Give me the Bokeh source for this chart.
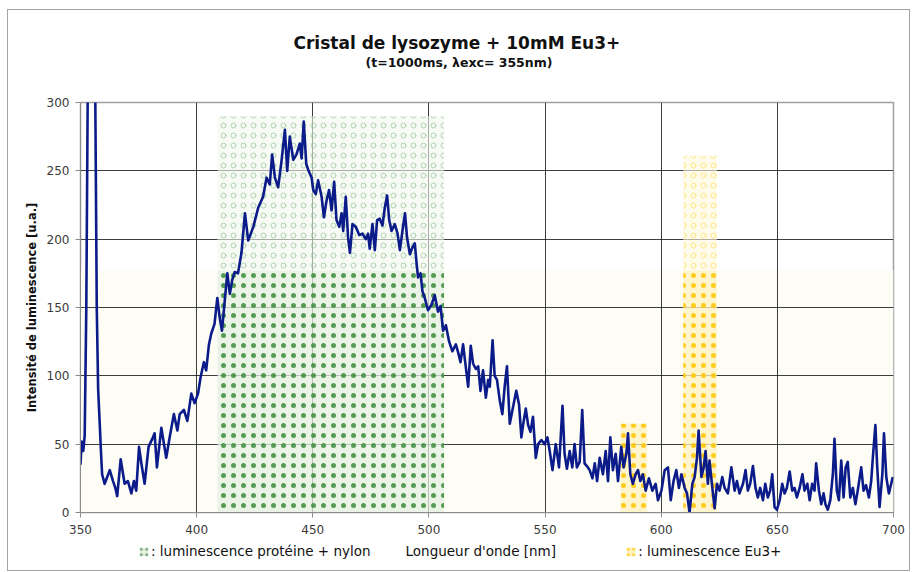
from bokeh.plotting import figure
from bokeh.layouts import column
from bokeh.models import (Range1d, FixedTicker, Legend, LegendItem, Title,
                          BoxAnnotation, ColumnDataSource)
from bokeh.embed import file_html
from bokeh.resources import INLINE

# ---------------- data ----------------
wavelength = [
    350.0, 350.5, 351.2, 351.8, 352.5, 353.2, 354.0, 355.5, 356.3, 357.0,
    357.6, 358.2, 358.8, 359.3, 360.4, 361.5, 362.6, 364.0, 365.0, 365.8,
    367.3, 369.0, 370.4, 371.9, 373.0, 374.0, 375.2, 376.2, 377.6, 379.3,
    381.2, 381.9, 382.9, 384.8, 386.9, 388.4, 390.2, 391.7, 392.7, 394.5,
    396.0, 397.7, 399.1, 400.6, 401.7, 403.1, 404.1, 405.3, 406.3, 407.7,
    408.9, 409.9, 410.9, 412.0, 413.2, 414.3, 415.3, 416.4, 417.8, 419.3,
    420.8, 422.2, 424.4, 426.5, 428.6, 430.1, 431.5, 432.5, 433.7, 435.1,
    436.6, 438.0, 439.0, 440.1, 441.6, 443.0, 444.4, 445.2, 446.1, 447.2,
    448.2, 449.5, 450.2, 451.3, 452.3, 453.8, 454.8, 455.9, 457.0, 458.1,
    459.2, 460.2, 461.4, 462.4, 463.1, 464.2, 465.2, 466.0, 467.1, 468.5,
    470.0, 471.4, 472.8, 473.8, 474.5, 475.7, 476.7, 477.7, 478.8, 480.0,
    481.0, 482.0, 482.9, 483.9, 485.3, 486.5, 487.5, 488.6, 489.7, 490.6,
    491.8, 492.9, 493.9, 494.6, 495.3, 496.4, 497.2, 498.2, 499.6, 501.1,
    502.5, 503.9, 505.0, 506.1, 507.3, 508.7, 510.1, 511.6, 512.6, 513.6,
    514.7, 515.9, 516.9, 518.0, 519.0, 520.2, 521.2, 522.2, 523.3, 524.5,
    525.5, 526.2, 527.4, 528.3, 529.3, 530.5, 531.6, 532.6, 533.6, 534.8,
    536.2, 537.6, 538.8, 539.8, 540.8, 541.7, 542.7, 543.7, 544.8, 546.0,
    547.0, 548.4, 549.8, 551.0, 552.0, 553.2, 554.6, 556.0, 557.5, 558.4,
    559.4, 560.6, 561.7, 562.7, 563.7, 564.9, 566.0, 567.0, 568.0, 569.2,
    570.4, 571.4, 572.4, 573.5, 574.9, 576.1, 577.1, 578.1, 579.2, 580.4,
    581.4, 582.8, 583.8, 585.0, 585.7, 586.7, 587.8, 589.0, 590.0, 591.0,
    592.1, 593.3, 594.7, 596.2, 597.6, 598.6, 600.1, 601.5, 602.9, 604.1,
    605.3, 606.5, 607.6, 608.7, 610.1, 611.1, 612.2, 613.4, 614.4, 615.4,
    616.1, 617.3, 618.3, 619.1, 620.1, 620.8, 622.0, 623.0, 624.0, 625.1,
    626.3, 627.3, 628.7, 630.2, 631.6, 632.6, 633.7, 635.2, 636.3, 637.3,
    638.3, 639.5, 640.6, 641.6, 642.6, 643.8, 644.8, 645.9, 646.9, 647.8,
    648.8, 649.8, 651.0, 652.1, 653.1, 654.1, 655.3, 656.4, 657.4, 658.4,
    659.6, 660.8, 661.7, 662.9, 663.9, 665.0, 666.0, 666.7, 667.9, 668.9,
    669.9, 670.7, 671.7, 672.8, 673.9, 674.6, 675.6, 676.5, 677.5, 678.5,
    679.4, 680.3, 681.4, 682.5, 683.6, 684.6, 686.1, 687.1, 688.2, 689.4,
    690.4, 691.1, 692.2, 693.0, 694.0, 695.2, 695.9, 696.9, 698.0, 699.0,
    699.7,
]
intensity = [
    35, 52, 45, 56, 150, 330, 380, 380, 320, 150,
    90, 68, 45, 28, 21, 26, 31, 23, 18, 12,
    39, 21, 23, 14, 23, 16, 48, 36, 21, 48,
    55, 58, 33, 62, 40, 55, 72, 60, 72, 75,
    67, 87, 80, 87, 99, 110, 104, 123, 131, 138,
    157, 143, 133, 153, 175, 160, 170, 176, 175, 190,
    219, 199, 209, 223, 231, 245, 240, 262, 245, 238,
    258, 280, 250, 275, 258, 262, 270, 259, 286, 255,
    250, 245, 236, 233, 243, 231, 216, 228, 236, 221,
    242, 214, 209, 219, 206, 231, 201, 190, 211, 209,
    203, 204, 200, 204, 193, 211, 192, 214, 215, 210,
    223, 232, 214, 206, 211, 204, 192, 206, 219, 201,
    189, 194, 197, 184, 172, 175, 162, 157, 148, 152,
    159, 147, 151, 133, 137, 125, 118, 123, 117, 110,
    123, 106, 92, 122, 109, 105, 107, 89, 104, 84,
    97, 92, 126, 100, 97, 82, 72, 92, 107, 65,
    77, 89, 79, 55, 67, 76, 64, 59, 70, 40,
    50, 53, 50, 55, 45, 31, 50, 33, 78, 43,
    32, 45, 33, 50, 33, 37, 75, 36, 34, 31,
    25, 36, 23, 40, 28, 45, 23, 55, 31, 43,
    23, 48, 33, 43, 58, 28, 21, 28, 31, 23,
    28, 16, 25, 16, 21, 9, 16, 31, 33, 9,
    23, 31, 18, 28, 18, 14, 0, 21, 26, 40,
    60, 26, 33, 45, 21, 38, 18, 3, 21, 16,
    26, 18, 14, 33, 16, 23, 14, 21, 31, 16,
    21, 34, 18, 11, 18, 9, 21, 11, 16, 28,
    4, 2, 9, 21, 14, 18, 30, 16, 18, 11,
    18, 28, 16, 21, 9, 21, 16, 36, 16, 6,
    14, 6, 2, 9, 28, 54, 16, 9, 38, 11,
    33, 37, 11, 18, 6, 16, 33, 16, 20, 11,
    23, 40, 64, 33, 4, 28, 58, 26, 14, 21,
    26,
]

# highlighted emission bands (nm) and their heights
band_labels = [": luminescence protéine + nylon", ": luminescence Eu3+"]
band_left = [409.0, 582.5, 609.5]
band_right = [506.5, 594.0, 624.0]
band_top = [290, 65, 261]

x_ticks = [350, 400, 450, 500, 550, 600, 650, 700]
y_ticks = [0, 50, 100, 150, 200, 250, 300]

title_text = "Cristal de lysozyme + 10mM Eu3+"
subtitle_text = "(t=1000ms, \u03bbexc= 355nm)"
x_label = "Longueur d'onde [nm]"
y_label = "Intensité de luminescence [u.a.]"

# ---------------- styling constants ----------------
DENSE_TOP = 177      # the lower part of the chart is printed darker
FONT = "DejaVu Sans"
GREEN = dict(fill="#e4efe0", hatch="#3a8c3a", fill_up="#f1f6ef", hatch_up="#86bd86")
YELLOW = dict(fill="#fff1bd", hatch="#ffc400", fill_up="#fff8dc", hatch_up="#ffd84a")
NBSP = "\u00a0"
W = 901

p = figure(width=W, height=530, output_backend="svg", toolbar_location=None,
           x_range=Range1d(350, 700), y_range=Range1d(0, 300),
           min_border_left=72, min_border_right=16,
           min_border_top=92, min_border_bottom=28,
           background_fill_color="white", border_fill_color="white",
           title=title_text)

# titles (stacked above the frame: spacer, subtitle, main title)
p.add_layout(Title(text=NBSP, text_font_size="1px", standoff=30), "above")
p.add_layout(Title(text=subtitle_text, text_font=FONT, text_font_size="12.5px",
                   text_font_style="bold", text_color="#111111",
                   align="left", offset=285, standoff=0), "above")
p.title.text_font = FONT
p.title.text_font_size = "17px"
p.title.text_font_style = "bold"
p.title.text_color = "#111111"
p.title.align = "left"
p.title.offset = 213
p.title.standoff = 0

# cream lower background
p.add_layout(BoxAnnotation(bottom=0, top=DENSE_TOP, fill_color="#fdfdf6",
                           fill_alpha=1.0, line_color=None, level="image"))

# bands
low_sources = []
for i in range(len(band_left)):
    pal = GREEN if i == 0 else YELLOW
    low = ColumnDataSource(dict(left=[band_left[i]], right=[band_right[i]],
                                bottom=[0], top=[min(band_top[i], DENSE_TOP)]))
    low_sources.append(low)
    p.quad(left="left", right="right", bottom="bottom", top="top", source=low,
           fill_color=pal["fill"], fill_alpha=0.75, line_color=None,
           hatch_pattern="dot", hatch_color=pal["hatch"], hatch_alpha=0.85,
           hatch_scale=10, hatch_weight=1)
    if band_top[i] > DENSE_TOP:
        up = ColumnDataSource(dict(left=[band_left[i]], right=[band_right[i]],
                                   bottom=[DENSE_TOP], top=[band_top[i]]))
        p.quad(left="left", right="right", bottom="bottom", top="top", source=up,
               fill_color=pal["fill_up"], fill_alpha=0.6, line_color=None,
               hatch_pattern="ring", hatch_color=pal["hatch_up"], hatch_alpha=0.6,
               hatch_scale=10, hatch_weight=1)

# spectrum
p.line(wavelength, intensity, line_color="#0c1b8a", line_width=2.6, line_join="round")

# grids
p.xgrid.ticker = FixedTicker(ticks=x_ticks)
p.ygrid.ticker = FixedTicker(ticks=y_ticks)
p.grid.grid_line_color = "#1c1c1c"
p.grid.grid_line_alpha = 0.85
p.grid.grid_line_width = 1

# axes
p.xaxis.ticker = FixedTicker(ticks=x_ticks)
p.yaxis.ticker = FixedTicker(ticks=y_ticks)
for ax in (p.xaxis[0], p.yaxis[0]):
    ax.axis_line_color = "#8c8c8c"
    ax.major_tick_line_color = "#8c8c8c"
    ax.major_tick_out = 5
    ax.major_tick_in = 0
    ax.minor_tick_line_color = None
    ax.major_label_text_font = FONT
    ax.major_label_text_font_size = "12px"
    ax.major_label_text_color = "#3a3a3a"
    ax.axis_label_text_font = FONT
    ax.axis_label_text_color = "#111111"
p.yaxis.major_label_standoff = 6
p.xaxis.major_label_standoff = 7
p.yaxis.axis_label = y_label
p.yaxis.axis_label_text_font_size = "11.5px"
p.yaxis.axis_label_text_font_style = "bold"
p.yaxis.axis_label_standoff = 5

p.outline_line_color = "#a0a0a0"
p.outline_line_width = 1.5

# ---------------- bottom strip: legend swatches + x-axis title ----------------
# its y range lies below the band data, so the band quads drawn here stay hidden
# and only serve as legend swatches
s = figure(width=W, height=30, output_backend="svg", toolbar_location=None,
           x_range=Range1d(350, 700), y_range=Range1d(-40, -10),
           min_border_left=72, min_border_right=16,
           min_border_top=0, min_border_bottom=0,
           x_axis_location=None, y_axis_location=None,
           background_fill_color="white", border_fill_color="white")
s.outline_line_color = None
s.grid.visible = False

sw_green = s.quad(left="left", right="right", bottom="bottom", top="top",
                  source=low_sources[0],
                  fill_color=GREEN["fill"], line_color=None,
                  hatch_pattern="dot", hatch_color=GREEN["hatch"], hatch_alpha=0.75,
                  hatch_scale=5.5, hatch_weight=1)
sw_yellow = s.quad(left="left", right="right", bottom="bottom", top="top",
                   source=low_sources[1],
                   fill_color=YELLOW["fill"], line_color=None,
                   hatch_pattern="dot", hatch_color=YELLOW["hatch"], hatch_alpha=0.75,
                   hatch_scale=5.5, hatch_weight=1)
sw_blank = s.line(x=[], y=[], line_alpha=0)

legend = Legend(items=[
                    LegendItem(label=band_labels[0], renderers=[sw_green]),
                    LegendItem(label=x_label + NBSP * 11, renderers=[sw_blank]),
                    LegendItem(label=band_labels[1], renderers=[sw_yellow]),
                ],
                location=(58, 11), orientation="horizontal",
                border_line_color=None, background_fill_alpha=0,
                padding=0, margin=0, spacing=22,
                glyph_width=11, glyph_height=11, label_height=11,
                label_standoff=2, label_text_font=FONT,
                label_text_font_size="13.5px", label_text_color="#111111")
s.add_layout(legend)

layout = column(p, s, spacing=0,
                styles={"border": "1px solid #a4a4a4", "margin": "9px 0 0 7px"})

open("out.html", "w").write(file_html(layout, INLINE))
